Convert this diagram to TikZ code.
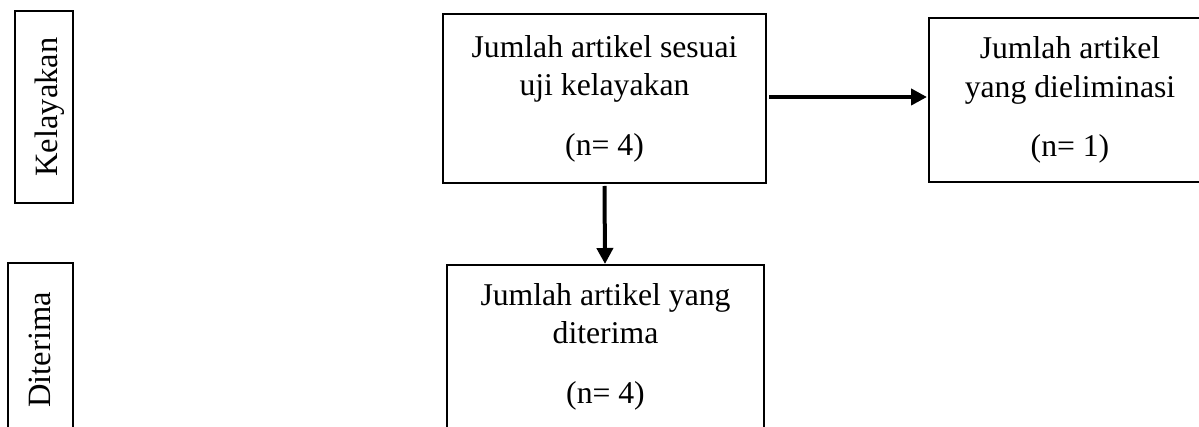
\documentclass[tikz,border=0pt]{standalone}
\usepackage{fontspec}
\setmainfont{Liberation Serif}
\usetikzlibrary{arrows.meta}
\begin{document}
\begin{tikzpicture}[x=1pt,y=1pt,
  flowbox/.style={draw=black, line width=2pt, inner sep=0pt, align=center,
    font=\fontsize{31.7pt}{38.5pt}\selectfont},
  sidebox/.style={draw=black, line width=2pt, inner sep=0pt, rotate=90,
    font=\fontsize{32.5pt}{38pt}\selectfont, text depth=0pt},
  flowarrow/.style={line width=4pt, -{Triangle[length=16pt,width=16pt]}}]
\useasboundingbox (0,0) rectangle (1199,-427);
\clip (0,0) rectangle (1199,-427);
% side labels
\node[sidebox, minimum width=192pt, minimum height=58pt, text height=26pt]
  (kel) at (44,-107) {Kelayakan\hspace{13pt}};
\node[sidebox, minimum width=174pt, minimum height=65pt, text height=19pt]
  (dit) at (40.5,-350) {Diterima};
% flow boxes
\node[flowbox, minimum width=323pt, minimum height=169pt]
  (main) at (604.5,-98.5) {Jumlah artikel sesuai\\uji kelayakan\\[21pt](n= 4)};
\node[flowbox, minimum width=282pt, minimum height=164pt]
  (elim) at (1070,-100) {Jumlah artikel\\yang dieliminasi\\[21pt](n= 1)};
\node[flowbox, minimum width=317pt, minimum height=163pt]
  (acc) at (605.5,-346.5) {Jumlah artikel yang\\diterima\\[21pt](n= 4)};
% connectors
\draw[flowarrow] ([xshift=2pt,yshift=1.5pt]main.east) -- ([xshift=-1pt,yshift=3pt]elim.west);
\draw[flowarrow] ([yshift=-2pt]main.south) -- ([xshift=-0.5pt]acc.north);
\end{tikzpicture}
\end{document}
